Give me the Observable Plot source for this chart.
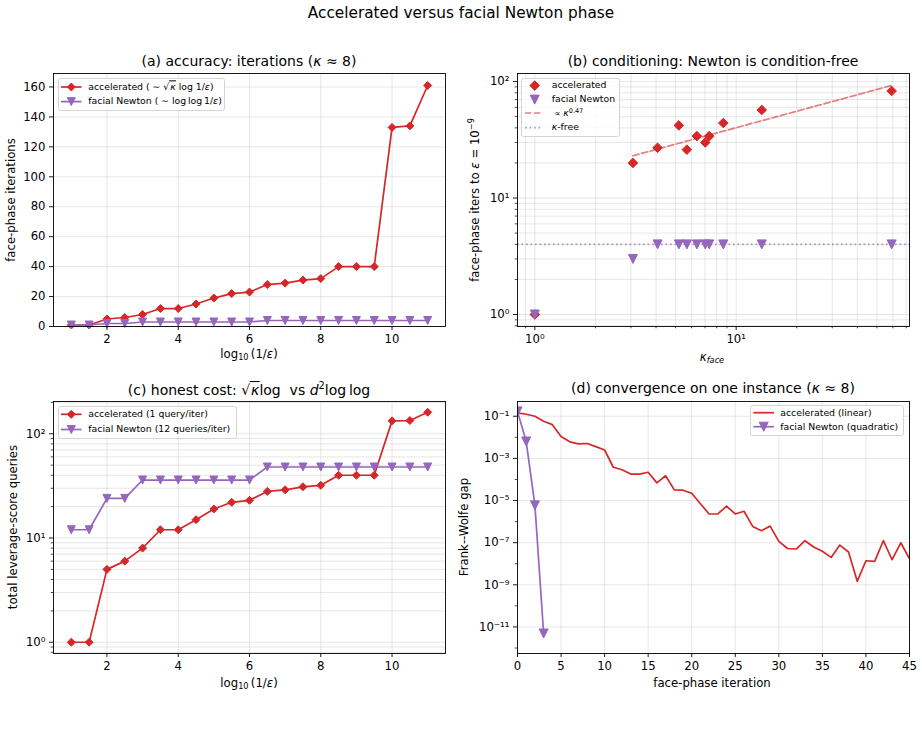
<!DOCTYPE html>
<html>
<head>
<meta charset="utf-8">
<script src="https://cdn.jsdelivr.net/npm/d3@7"></script>
<script src="https://cdn.jsdelivr.net/npm/@observablehq/plot@0.6"></script>
<style>
  html, body { margin: 0; padding: 0; background: #fff; }
  #figure { position: relative; width: 922px; height: 730px; overflow: hidden; background: #fff;
            font-family: "DejaVu Sans", sans-serif; color: #000; }
  #figure > svg { position: absolute; }
  .txt { position: absolute; white-space: nowrap; line-height: 1; }
  .c { transform: translate(-50%, -50%); }
  .rot { transform: translate(-50%, -50%) rotate(-90deg); }
  .suptitle { font-size: 15.3px; }
  .ttl { font-size: 14px; }
  .lab { font-size: 11.7px; }
  .legend { position: absolute; box-sizing: border-box; border: 1px solid #d4d4d4; border-radius: 2.5px;
            background: rgba(255,255,255,0.8); font-size: 9.3px; }
  .legend .txt { transform: translateY(-50%); }
  .legend svg { position: absolute; overflow: visible; }
  i { font-style: italic; }
  .sub { font-size: 70%; vertical-align: -0.3em; }
  .sup { font-size: 70%; vertical-align: 0.6em; }
  .rad { border-top: 1px solid currentColor; padding-left: 1px; }
</style>
</head>
<body>
<div id="figure"></div>
<script>
// ---------------- data ----------------
// (a), (c): sweep over target accuracy, log10(1/eps)
const logInvEps = [1, 1.5, 2, 2.5, 3, 3.5, 4, 4.5, 5, 5.5, 6, 6.5, 7, 7.5, 8, 8.5, 9, 9.5, 10, 10.5, 11];
const acceleratedIters = [1, 1, 5, 6, 8, 12, 12, 15, 19, 22, 23, 28, 29, 31, 32, 40, 40, 40, 133, 134, 161];
const newtonIters = [1, 1, 2, 2, 3, 3, 3, 3, 3, 3, 3, 4, 4, 4, 4, 4, 4, 4, 4, 4, 4];
const acceleratedQueriesPerIter = 1;
const newtonQueriesPerIter = 12;

// (b): iterations to eps = 1e-9 across instances of varying face conditioning
const kappaFace = [1, 3.07, 4.07, 5.19, 5.69, 6.38, 7.02, 7.35, 8.63, 13.4, 59.2];
const acceleratedItersToTol = [1, 20, 27, 42, 26, 34, 30, 34, 44, 57, 83];
const newtonItersToTol = [1, 3, 4, 4, 4, 4, 4, 4, 4, 4, 4];
const fitExponent = 0.47;
const fitPrefactor = 13.6;
const kappaFreeIters = 4;

// (d): Frank-Wolfe gap per face-phase iteration on one instance
const acceleratedGap = [0.144, 0.124, 0.1, 0.058, 0.040, 0.0109, 6.1e-3, 4.9e-3, 5.1e-3, 3.6e-3,
  2.5e-3, 3.8e-4, 2.9e-4, 1.8e-4, 1.8e-4, 2.2e-4, 6.9e-5, 1.5e-4, 3.2e-5, 3.1e-5,
  2.2e-5, 7.0e-6, 2.3e-6, 2.3e-6, 5.4e-6, 2.3e-6, 3.1e-6, 5.9e-7, 3.7e-7, 6.1e-7,
  1.15e-7, 5.3e-8, 5.0e-8, 1.24e-7, 6.2e-8, 3.9e-8, 2.0e-8, 7.7e-8, 3.6e-8, 1.46e-9,
  1.39e-8, 1.29e-8, 1.24e-7, 1.55e-8, 9.9e-8, 1.73e-8];
const newtonGap = [0.17, 6.3e-3, 5.9e-6, 4.9e-12];

// ---------------- ticks ----------------
const ticksEps = [2, 4, 6, 8, 10];
const ticksItersA = [0, 20, 40, 60, 80, 100, 120, 140, 160];
const decadesKappa = [1, 10];
const minorKappa = [0.9, 2, 3, 4, 5, 6, 7, 8, 9, 20, 30, 40, 50, 60, 70];
const decadesItersB = [1, 10, 100];
const minorItersB = [0.8, 0.9, 2, 3, 4, 5, 6, 7, 8, 9, 20, 30, 40, 50, 60, 70, 80, 90];
const decadesQueries = [1, 10, 100];
const minorQueries = [0.8, 0.9, 2, 3, 4, 5, 6, 7, 8, 9, 20, 30, 40, 50, 60, 70, 80, 90, 200];
const ticksIterD = [0, 5, 10, 15, 20, 25, 30, 35, 40, 45];
const decadesGap = [1e-1, 1e-3, 1e-5, 1e-7, 1e-9, 1e-11];
const minorGap = [1e-2, 1e-4, 1e-6, 1e-8, 1e-10, 1e-12];

// ---------------- styling helpers ----------------
const RED = "#d62728", PURPLE = "#9467bd";
const W = 461, H = 330;
const SUP = {"0": "⁰", "1": "¹", "2": "²", "3": "³", "4": "⁴", "5": "⁵", "6": "⁶", "7": "⁷", "8": "⁸", "9": "⁹", "-": "⁻"};
const pow10 = v => "10" + String(Math.round(Math.log10(v))).split("").map(c => SUP[c]).join("");
const grid = {stroke: "#b0b0b0", strokeOpacity: 0.35, strokeWidth: 0.9};
const axis = {tickSize: 4, tickPadding: 4, strokeWidth: 0.9, label: null};
const minorAxis = {tickSize: 2.3, tickPadding: 0, strokeWidth: 0.7, label: null, tickFormat: () => ""};
const plotStyle = {fontFamily: "DejaVu Sans", fontSize: "11.7px", color: "#000", background: "transparent", overflow: "visible"};

// matplotlib-like marker shapes ("D" and "v")
const diamondSymbol = {draw(ctx, size) {
  const r = Math.sqrt(size / Math.PI);
  ctx.moveTo(0, -r); ctx.lineTo(r, 0); ctx.lineTo(0, r); ctx.lineTo(-r, 0); ctx.closePath();
}};
const triDownSymbol = {draw(ctx, size) {
  const r = Math.sqrt(size / Math.PI);
  ctx.moveTo(-r, -r); ctx.lineTo(r, -r); ctx.lineTo(0, r); ctx.closePath();
}};

const fig = document.getElementById("figure");
function addPanel(svg, left, top) {
  svg.style.left = left + "px";
  svg.style.top = top + "px";
  fig.appendChild(svg);
}
function place(html, x, y, cls) {
  const d = document.createElement("div");
  d.className = "txt " + cls;
  d.style.left = x + "px";
  d.style.top = y + "px";
  d.innerHTML = html;
  fig.appendChild(d);
}
function markerPath(kind, cx, cy, r) {
  if (kind === "diamond") return `M${cx},${cy - r}L${cx + r},${cy}L${cx},${cy + r}L${cx - r},${cy}Z`;
  return `M${cx - r},${cy - r}L${cx + r},${cy - r}L${cx},${cy + r}Z`;
}
function legend(x, y, w, h, rows) {
  const box = document.createElement("div");
  box.className = "legend";
  Object.assign(box.style, {left: x + "px", top: y + "px", width: w + "px", height: h + "px"});
  let svg = `<svg width="${w}" height="${h}" style="left:-1px;top:-1px">`;
  for (const r of rows) {
    if (r.line) svg += `<line x1="${r.x0}" x2="${r.x1}" y1="${r.y}" y2="${r.y}" stroke="${r.color}" stroke-width="1.7"` +
      (r.dash ? ` stroke-dasharray="${r.dash}"` : "") + ` stroke-opacity="${r.opacity ?? 1}"/>`;
    if (r.marker) svg += `<path d="${markerPath(r.marker, r.mx, r.y, r.ms)}" fill="${r.color}" stroke="${r.color}" stroke-width="1"/>`;
  }
  svg += "</svg>";
  box.innerHTML = svg + rows.map(r => `<div class="txt" style="left:${r.tx - 1}px;top:${r.y - 1}px">${r.html}</div>`).join("");
  fig.appendChild(box);
}

// ---------------- derived tables ----------------
const sweep = logInvEps.map((e, i) => ({
  e,
  accIters: acceleratedIters[i],
  newtIters: newtonIters[i],
  accQueries: acceleratedIters[i] * acceleratedQueriesPerIter,
  newtQueries: newtonIters[i] * newtonQueriesPerIter
}));
const instances = kappaFace.map((k, i) => ({k, acc: acceleratedItersToTol[i], newt: newtonItersToTol[i]}));
const fitRange = d3.extent(kappaFace.filter(k => k > 1));
const fitLine = fitRange.map(k => ({k, it: fitPrefactor * Math.pow(k, fitExponent)}));
const accTrace = acceleratedGap.map((g, t) => ({t, g}));
const newtTrace = newtonGap.map((g, t) => ({t, g}));

// ---------------- (a) accuracy: iterations ----------------
addPanel(Plot.plot({
  width: W, height: H, marginLeft: 53, marginRight: 16, marginTop: 33, marginBottom: 44,
  style: plotStyle,
  x: {domain: [0.5, 11.5]},
  y: {domain: [0, 169]},
  marks: [
    Plot.gridX({ticks: ticksEps, ...grid}),
    Plot.gridY({ticks: ticksItersA, ...grid}),
    Plot.line(sweep, {x: "e", y: "accIters", stroke: RED, strokeWidth: 1.7}),
    Plot.dot(sweep, {x: "e", y: "accIters", symbol: diamondSymbol, r: 4, fill: RED, stroke: RED, strokeWidth: 1}),
    Plot.line(sweep, {x: "e", y: "newtIters", stroke: PURPLE, strokeWidth: 1.7}),
    Plot.dot(sweep, {x: "e", y: "newtIters", symbol: triDownSymbol, r: 4, fill: PURPLE, stroke: PURPLE, strokeWidth: 1}),
    Plot.axisX({ticks: ticksEps, ...axis}),
    Plot.axisY({ticks: ticksItersA, ...axis}),
    Plot.frame({stroke: "#000", strokeWidth: 0.9})
  ]
}), 0, 40);

// ---------------- (b) conditioning ----------------
addPanel(Plot.plot({
  width: W, height: H, marginLeft: 56, marginRight: 13, marginTop: 33, marginBottom: 44,
  style: plotStyle,
  x: {type: "log", domain: [0.82, 72.6]},
  y: {type: "log", domain: [0.789, 117.2]},
  marks: [
    Plot.gridX({ticks: minorKappa, ...grid}),
    Plot.gridX({ticks: decadesKappa, ...grid}),
    Plot.gridY({ticks: minorItersB, ...grid}),
    Plot.gridY({ticks: decadesItersB, ...grid}),
    Plot.line(fitLine, {x: "k", y: "it", stroke: RED, strokeOpacity: 0.6, strokeWidth: 1.7, strokeDasharray: "6.3,2.7"}),
    Plot.ruleY([kappaFreeIters], {stroke: PURPLE, strokeOpacity: 0.7, strokeWidth: 1.7, strokeDasharray: "1.7,2.8"}),
    Plot.dot(instances, {x: "k", y: "acc", symbol: diamondSymbol, r: 4.8, fill: RED, stroke: RED, strokeWidth: 1}),
    Plot.dot(instances, {x: "k", y: "newt", symbol: triDownSymbol, r: 4.5, fill: PURPLE, stroke: PURPLE, strokeWidth: 1}),
    Plot.axisX({ticks: minorKappa, ...minorAxis}),
    Plot.axisX({ticks: decadesKappa, tickFormat: pow10, ...axis}),
    Plot.axisY({ticks: minorItersB, ...minorAxis}),
    Plot.axisY({ticks: decadesItersB, tickFormat: pow10, ...axis}),
    Plot.frame({stroke: "#000", strokeWidth: 0.9})
  ]
}), 461, 40);

// ---------------- (c) honest cost ----------------
addPanel(Plot.plot({
  width: W, height: H, marginLeft: 53, marginRight: 16, marginTop: 31, marginBottom: 47,
  style: plotStyle,
  x: {domain: [0.5, 11.5]},
  y: {type: "log", domain: [0.78, 204]},
  marks: [
    Plot.gridX({ticks: ticksEps, ...grid}),
    Plot.gridY({ticks: minorQueries, ...grid}),
    Plot.gridY({ticks: decadesQueries, ...grid}),
    Plot.line(sweep, {x: "e", y: "accQueries", stroke: RED, strokeWidth: 1.7}),
    Plot.dot(sweep, {x: "e", y: "accQueries", symbol: diamondSymbol, r: 4, fill: RED, stroke: RED, strokeWidth: 1}),
    Plot.line(sweep, {x: "e", y: "newtQueries", stroke: PURPLE, strokeWidth: 1.7}),
    Plot.dot(sweep, {x: "e", y: "newtQueries", symbol: triDownSymbol, r: 4, fill: PURPLE, stroke: PURPLE, strokeWidth: 1}),
    Plot.axisX({ticks: ticksEps, ...axis}),
    Plot.axisY({ticks: minorQueries, ...minorAxis}),
    Plot.axisY({ticks: decadesQueries, tickFormat: pow10, ...axis}),
    Plot.frame({stroke: "#000", strokeWidth: 0.9})
  ]
}), 0, 370);

// ---------------- (d) convergence on one instance ----------------
addPanel(Plot.plot({
  width: W, height: H, marginLeft: 56, marginRight: 13, marginTop: 31, marginBottom: 47,
  style: plotStyle,
  x: {domain: [0, 45]},
  y: {type: "log", domain: [5.5e-13, 0.501]},
  marks: [
    Plot.gridX({ticks: ticksIterD, ...grid}),
    Plot.gridY({ticks: decadesGap, ...grid}),
    Plot.line(accTrace, {x: "t", y: "g", stroke: RED, strokeWidth: 1.7, clip: true}),
    Plot.line(newtTrace, {x: "t", y: "g", stroke: PURPLE, strokeWidth: 1.7, clip: true}),
    Plot.dot(newtTrace, {x: "t", y: "g", symbol: triDownSymbol, r: 4.5, fill: PURPLE, stroke: PURPLE, strokeWidth: 1, clip: true}),
    Plot.axisX({ticks: ticksIterD, ...axis}),
    Plot.axisY({ticks: minorGap, ...minorAxis}),
    Plot.axisY({ticks: decadesGap, tickFormat: pow10, ...axis}),
    Plot.frame({stroke: "#000", strokeWidth: 0.9})
  ]
}), 461, 370);

// ---------------- titles and axis labels ----------------
const kap = "<i>κ</i>", eps = "<i>ε</i>";
place("Accelerated versus facial Newton phase", 461, 13.5, "c suptitle");

place(`(a) accuracy: iterations (${kap} ≈ 8)`, 249, 60.5, "c ttl");
place("(b) conditioning: Newton is condition-free", 713, 61, "c ttl");
place(`(c) honest cost: √<span class="rad">${kap}</span>log&nbsp; vs <i>d</i><span class="sup">2</span>log&thinsp;log`, 249, 389, "c ttl");
place(`(d) convergence on one instance (${kap} ≈ 8)`, 713, 388, "c ttl");

const logEpsLabel = `log<span class="sub">10</span>&thinsp;(1/${eps})`;
place(logEpsLabel, 249, 355, "c lab");
place(`${kap}<span class="sub"><i>face</i></span>`, 712, 358, "c lab");
place(logEpsLabel, 249, 683.5, "c lab");
place("face-phase iteration", 712, 683.5, "c lab");

place("face-phase iterations", 12, 199.5, "rot lab");
place(`face-phase iters to ${eps} = 10<span class="sup">−9</span>`, 473.5, 199.5, "rot lab");
place("total leverage-score queries", 13.5, 527, "rot lab");
place("Frank--Wolfe gap", 464.5, 527, "rot lab");

// ---------------- legends ----------------
legend(58.3, 77.7, 167, 33.3, [
  {y: 9, color: RED, line: true, x0: 3, x1: 23.5, marker: "diamond", mx: 13.3, ms: 4, tx: 30,
   html: `accelerated ( ∼ √<span class="rad">${kap}</span> log 1/${eps})`},
  {y: 23.6, color: PURPLE, line: true, x0: 3, x1: 23.5, marker: "tri", mx: 13.3, ms: 4, tx: 30,
   html: `facial Newton ( ∼ log&thinsp;log&thinsp;1/${eps})`}
]);
legend(521, 77.7, 98.7, 59, [
  {y: 7.6, color: RED, marker: "diamond", mx: 13.7, ms: 4.8, tx: 30.7, html: "accelerated"},
  {y: 21.6, color: PURPLE, marker: "tri", mx: 13.7, ms: 4.5, tx: 30.7, html: "facial Newton"},
  {y: 35, color: RED, opacity: 0.6, line: true, dash: "6.3,2.7", x0: 4, x1: 21, tx: 30.7,
   html: `&nbsp;<span style="font-size:85%">∝</span> ${kap}<span class="sup">0.47</span>`},
  {y: 49.6, color: PURPLE, opacity: 0.7, line: true, dash: "1.7,2.8", x0: 4, x1: 21, tx: 30.7, html: `${kap}-free`}
]);
legend(58.3, 405.7, 179, 33.6, [
  {y: 8.3, color: RED, line: true, x0: 3, x1: 23.5, marker: "diamond", mx: 13.3, ms: 4, tx: 30,
   html: "accelerated (1 query/iter)"},
  {y: 23.5, color: PURPLE, line: true, x0: 3, x1: 23.5, marker: "tri", mx: 13.3, ms: 4, tx: 30,
   html: "facial Newton (12 queries/iter)"}
]);
legend(749.7, 405.3, 154.6, 31, [
  {y: 7.7, color: RED, line: true, x0: 3.3, x1: 24, tx: 30.6, html: "accelerated (linear)"},
  {y: 21.7, color: PURPLE, line: true, x0: 3.3, x1: 24, marker: "tri", mx: 13.7, ms: 4.5, tx: 30.6,
   html: "facial Newton (quadratic)"}
]);
</script>
</body>
</html>
